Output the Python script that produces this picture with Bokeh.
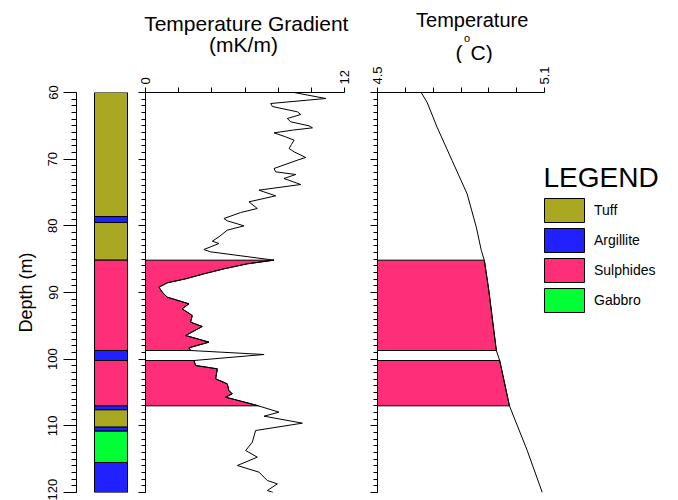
import numpy as np
from bokeh.plotting import figure
from bokeh.layouts import row, column
from bokeh.models import Range1d, FixedTicker, Label, Legend, LegendItem, ColumnDataSource
from bokeh.embed import file_html
from bokeh.resources import INLINE

FONT = "Liberation Sans"

# ---------------- data ----------------
litho_top = [60.0, 78.6, 79.5, 85.15, 98.7, 100.2, 107.0, 107.6, 110.2, 110.8, 115.5]
litho_bottom = [78.6, 79.5, 85.15, 98.7, 100.2, 107.0, 107.6, 110.2, 110.8, 115.5, 120.0]
litho_type = ["Tuff", "Argillite", "Tuff", "Sulphides", "Argillite", "Sulphides",
              "Argillite", "Tuff", "Argillite", "Gabbro", "Argillite"]
litho_names = ["Tuff", "Argillite", "Sulphides", "Gabbro"]
litho_colors = ["#aaa820", "#2121ff", "#ff2e78", "#00ff33"]
legend_title = "LEGEND"

grad_depth = [60.0, 60.9, 61.65, 62.1, 62.9, 63.3, 63.9, 64.4, 65.0, 65.3, 65.65, 66.05,
              66.65, 67.15, 67.8, 68.4, 68.9, 69.75, 70.15, 71.4, 71.9, 72.3, 72.9, 73.8,
              74.65, 75.5, 76.4, 77.4, 78.0, 78.9, 79.25, 80.0, 80.65, 81.65, 82.3, 82.65,
              83.55, 83.9, 85.15, 85.7, 86.45, 87.2, 87.95, 88.55, 89.2, 89.95, 90.7,
              91.7, 92.45, 93.45, 94.45, 95.1, 96.45, 97.45, 98.3, 98.7, 99.3, 100.2,
              100.95, 101.45, 102.95, 103.7, 104.7, 105.2, 105.7, 106.95, 107.95, 108.55,
              109.6, 110.7, 112.45, 113.7, 114.7, 115.95, 116.95, 118.2, 118.7, 119.7, 120.0]
grad_value = [8.96, 10.87, 7.55, 7.65, 9.16, 9.36, 8.55, 8.76, 9.86, 10.07, 8.86, 7.75,
              8.45, 8.96, 8.8, 8.66, 8.96, 9.66, 9.16, 7.75, 7.85, 9.06, 8.35, 9.36,
              6.84, 7.85, 6.24, 6.74, 5.74, 4.73, 4.93, 5.94, 4.93, 4.43, 4.03, 4.43,
              3.52, 3.92, 7.75, 6.14, 4.73, 3.52, 2.42, 1.31, 0.81, 1.01, 1.31,
              2.62, 2.21, 2.82, 2.72, 3.42, 2.42, 3.83, 2.62, 2.72, 7.15, 2.92,
              3.02, 4.33, 4.23, 4.93, 5.03, 5.23, 4.83, 6.74, 8.05, 7.15,
              9.46, 6.64, 6.44, 6.04, 6.74, 5.54, 6.84, 7.35, 7.95, 7.35, 7.7]

temp_depth = [60.0, 61.45, 65.2, 70.2, 75.2, 80.2, 83.7, 85.2, 89.7, 98.7, 100.2, 107.0, 113.7, 120.0]
temp_value = [4.657, 4.678, 4.714, 4.768, 4.822, 4.855, 4.873, 4.884, 4.900, 4.927, 4.939, 4.974, 5.038, 5.092]

depth_ticks = [60, 70, 80, 90, 100, 110, 120]
depth_minor = list(range(60, 121))
grad_ticks = [0, 12]
grad_minor = [2, 4, 6, 8, 10]
temp_ticks = [4.5, 5.1]
temp_minor = [4.6, 4.7, 4.8, 4.9, 5.0]

color_of = dict(zip(litho_names, litho_colors))
sulph = [(t, b) for t, b, k in zip(litho_top, litho_bottom, litho_type) if k == "Sulphides"]

# ---------------- layout constants (pixels) ----------------
TITLE_H = 63
TOP_B = 29
BOT_B = 8
PANEL_H = 500 - TITLE_H


def fill_polys(depths, values, base):
    d = np.asarray(depths, float)
    v = np.asarray(values, float)
    xs, ys = [], []
    for top, bot in sulph:
        inside = (d > top) & (d < bot)
        yd = np.concatenate([[top], d[inside], [bot]])
        xv = np.concatenate([[np.interp(top, d, v)], v[inside], [np.interp(bot, d, v)]])
        xs.append(list(np.concatenate([[base], xv, [base]])))
        ys.append(list(np.concatenate([[top], yd, [bot]])))
    return xs, ys


def style_depth_axis(ax, tick_out, minor_out, labels):
    ax.ticker = FixedTicker(ticks=depth_ticks, minor_ticks=depth_minor)
    ax.axis_line_color = "black"
    ax.major_tick_line_color = "black"
    ax.minor_tick_line_color = "black"
    ax.major_tick_in = 0
    ax.minor_tick_in = 0
    ax.major_tick_out = tick_out
    ax.minor_tick_out = minor_out
    if labels:
        ax.major_label_orientation = "vertical"
        ax.major_label_text_font = FONT
        ax.major_label_text_font_size = "13px"
        ax.major_label_text_color = "black"
        ax.major_label_standoff = 6
    else:
        ax.major_label_text_font_size = "0px"
        ax.major_label_text_alpha = 0
        ax.major_label_standoff = 0


def style_top_axis(ax, ticks, minor):
    ax.ticker = FixedTicker(ticks=ticks, minor_ticks=minor)
    ax.axis_line_color = "black"
    ax.major_tick_line_color = "black"
    ax.minor_tick_line_color = "black"
    ax.major_tick_in = 0
    ax.minor_tick_in = 0
    ax.major_tick_out = 5
    ax.minor_tick_out = 5
    ax.major_label_orientation = "vertical"
    ax.major_label_text_font = FONT
    ax.major_label_text_font_size = "13px"
    ax.major_label_text_color = "black"
    ax.major_label_standoff = 3


def base_fig(width, bl, br, x_range, xloc):
    p = figure(width=width, height=PANEL_H, x_range=x_range, y_range=Range1d(120, 60),
               x_axis_location=xloc, y_axis_location="left", title=None,
               output_backend="svg", toolbar_location=None,
               min_border_left=bl, min_border_right=br, min_border_top=TOP_B, min_border_bottom=BOT_B)
    p.grid.visible = False
    p.outline_line_color = None
    p.background_fill_color = "white"
    p.border_fill_color = "white"
    return p


# ---------------- titles strip ----------------
pT = figure(width=678, height=TITLE_H, x_range=Range1d(0, 678), y_range=Range1d(TITLE_H, 0),
            x_axis_location=None, y_axis_location=None, title=None,
            output_backend="svg", toolbar_location=None, min_border=0)
pT.grid.visible = False
pT.outline_line_color = None
for txt, x, y, size, align in [("Temperature Gradient", 245.8, 22.5, "21px", "center"),
                               ("(mK/m)", 243, 44, "21px", "center"),
                               ("Temperature", 471.7, 19, "20px", "center"),
                               ("(", 455, 51.5, "21px", "left"),
                               ("o", 463.5, 37.5, "11px", "left"),
                               ("C)", 470, 51.5, "21px", "left")]:
    pT.add_layout(Label(x=x, y=y, text=txt, text_align=align, text_baseline="alphabetic",
                        text_font=FONT, text_font_size=size, text_color="black"))

# ---------------- lithology column ----------------
pA = base_fig(136, 76, 0, Range1d(0, 60), None)
style_depth_axis(pA.yaxis[0], 13, 5, True)
pA.yaxis[0].axis_label = "Depth (m)"
pA.yaxis[0].axis_label_text_font = FONT
pA.yaxis[0].axis_label_text_font_size = "18px"
pA.yaxis[0].axis_label_text_font_style = "normal"
pA.yaxis[0].axis_label_text_color = "black"
pA.yaxis[0].axis_label_standoff = 10
COL_L, COL_R = 18, 51
litho_fill = [color_of[k] for k in litho_type]
src = ColumnDataSource(dict(top=litho_top, bottom=litho_bottom, color=litho_fill))
pA.quad(left=COL_L, right=COL_R, top="top", bottom="bottom", fill_color="color",
        line_color="black", line_width=1, source=src)

# ---------------- temperature gradient ----------------
pB = base_fig(229, 9, 21, Range1d(0, 12), "above")
style_depth_axis(pB.yaxis[0], 7, 4, False)
style_top_axis(pB.xaxis[0], grad_ticks, grad_minor)
gx, gy = fill_polys(grad_depth, grad_value, 0.0)
pB.patches(gx, gy, fill_color=color_of["Sulphides"], line_color="black", line_width=1)
pB.line(grad_value, grad_depth, line_color="black", line_width=1)

# ---------------- temperature ----------------
C_W, C_BL, C_AXPX = 313, 12, 167
c_end = temp_ticks[0] + (temp_ticks[-1] - temp_ticks[0]) * (C_W - C_BL) / C_AXPX
pC = base_fig(C_W, C_BL, 0, Range1d(temp_ticks[0], c_end), "above")
style_depth_axis(pC.yaxis[0], 7, 4, False)
style_top_axis(pC.xaxis[0], temp_ticks, temp_minor)
pC.xaxis[0].bounds = (temp_ticks[0], temp_ticks[-1])
tx, ty = fill_polys(temp_depth, temp_value, temp_ticks[0])
pC.patches(tx, ty, fill_color=color_of["Sulphides"], line_color="black", line_width=1)
pC.line(temp_value, temp_depth, line_color="black", line_width=1)

# hidden copy of the lithology table that only feeds the legend swatches
src_leg = ColumnDataSource(dict(top=litho_top, bottom=litho_bottom, color=litho_fill))
r_leg = pC.quad(left=temp_ticks[0], right=temp_ticks[-1], top="top", bottom="bottom",
                fill_color="color", line_color="black", line_width=1, source=src_leg, visible=False)
items = [LegendItem(label=name, renderers=[r_leg], index=litho_type.index(name))
         for name in litho_names]
legend = Legend(items=items, location=(162, 177.3),
                label_text_font=FONT, label_text_font_size="14px", label_text_color="black",
                glyph_width=50, glyph_height=30, label_height=20, spacing=0, label_standoff=5,
                padding=0, margin=0, border_line_color=None, background_fill_alpha=0,
                inactive_fill_alpha=0)
pC.add_layout(legend)
pC.add_layout(Label(x=166, y=315, x_units="screen", y_units="screen", text=legend_title,
                    text_align="left", text_baseline="alphabetic",
                    text_font=FONT, text_font_size="28px", text_color="black"))

layout = column(pT, row(pA, pB, pC, spacing=0), spacing=0)
open("out.html", "w").write(file_html(layout, INLINE))
